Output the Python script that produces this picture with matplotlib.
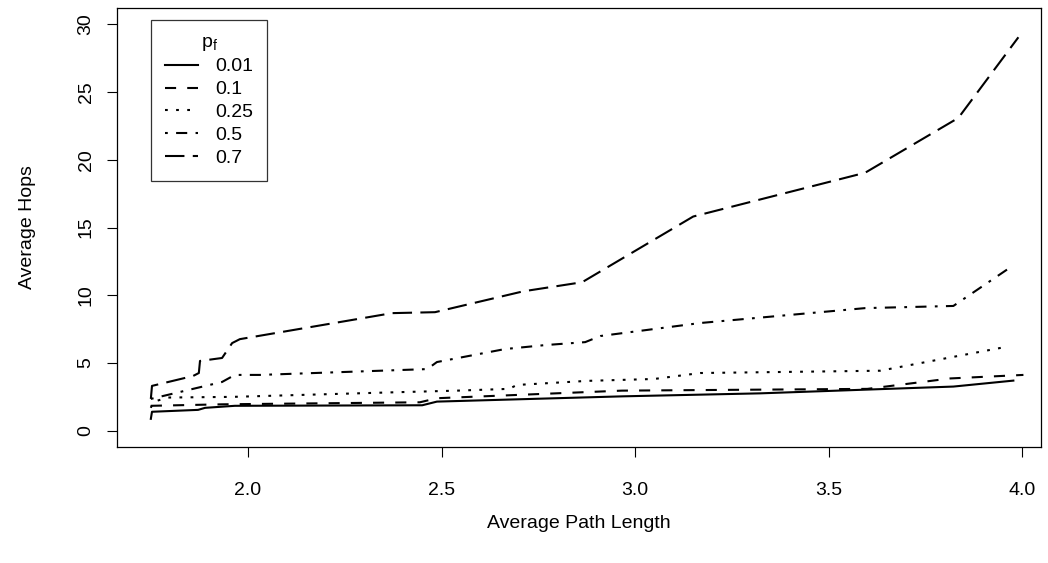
import matplotlib
matplotlib.use('Agg')
import matplotlib.pyplot as plt

plt.rcParams['font.family'] = ['Liberation Sans', 'DejaVu Sans']
plt.rcParams['font.size'] = 14
plt.rcParams['lines.scale_dashes'] = False

# values (x = average path length, y = average hops)
x_001 = [1.749, 1.752, 1.871, 1.889, 1.966, 2.450, 2.488, 2.969, 3.323, 3.822, 3.977]
y_001 = [0.88, 1.40, 1.54, 1.69, 1.84, 1.88, 2.15, 2.54, 2.76, 3.26, 3.70]

x_01 = [1.749, 1.933, 2.444, 2.488, 2.966, 3.600, 3.814, 4.003]
y_01 = [1.84, 1.95, 2.10, 2.40, 2.96, 3.09, 3.86, 4.12]

x_025 = [1.749, 1.755, 1.793, 1.961, 2.393, 2.540, 2.674, 2.695, 2.876, 3.049,
         3.168, 3.633, 3.951]
y_025 = [1.69, 2.13, 2.45, 2.50, 2.85, 2.96, 3.09, 3.38, 3.68, 3.82,
         4.26, 4.43, 6.15]

x_05 = [1.749, 1.933, 1.966, 2.031, 2.463, 2.488, 2.664, 2.767, 2.871, 2.910,
        3.168, 3.594, 3.822, 3.977]
y_05 = [2.35, 3.60, 4.12, 4.12, 4.55, 5.07, 6.03, 6.32, 6.54, 6.99,
        7.95, 9.05, 9.21, 12.21]

x_07 = [1.749, 1.752, 1.858, 1.873, 1.876, 1.933, 1.959, 1.979, 2.372, 2.483,
        2.711, 2.863, 3.150, 3.594, 3.835, 3.990]
y_07 = [2.35, 3.31, 4.04, 4.26, 5.15, 5.37, 6.47, 6.76, 8.68, 8.75,
        10.29, 10.96, 15.81, 19.04, 23.09, 29.04]

pf_labels = ['0.01', '0.1', '0.25', '0.5', '0.7']
xticks = [2.0, 2.5, 3.0, 3.5, 4.0]
yticks = [0, 5, 10, 15, 20, 25, 30]

# R style line types: solid, dashed, dotted, dotdash, longdash
ltys = ['-', (0, (8, 8)), (0, (2, 6)), (0, (2, 6, 8, 6)), (0, (14, 6))]

fig = plt.figure(figsize=(10.48, 5.63), dpi=100)
ax = fig.add_axes([117 / 1048, 1 - 447 / 563, 924 / 1048, 439 / 563])

series = [(x_001, y_001), (x_01, y_01), (x_025, y_025), (x_05, y_05), (x_07, y_07)]
for (xs, ys), lab, ls in zip(series, pf_labels, ltys):
    ax.plot(xs, ys, color='black', linestyle=ls, linewidth=1.5, label=lab)

ax.set_xlim(1.6616, 4.0484)
ax.set_ylim(-1.2, 31.2)

ax.set_xticks(xticks)
ax.set_xticklabels(['%.1f' % t for t in xticks])
ax.set_yticks(yticks)
ax.set_yticklabels([str(t) for t in yticks], rotation=90, va='center')
ax.tick_params(axis='both', direction='out', length=7.2, width=0.8, labelsize=14)
ax.tick_params(axis='x', pad=18)
ax.tick_params(axis='y', pad=9)
for sp in ax.spines.values():
    sp.set_linewidth(0.9)

ax.set_xlabel('Average Path Length', fontsize=14)
ax.set_ylabel('Average Hops', fontsize=14)
ax.xaxis.set_label_coords(0.5, -0.156)
ax.yaxis.set_label_coords(-0.0882, 0.5)

leg = ax.legend(title=r'$\mathregular{p_f}$', loc='upper left',
                bbox_to_anchor=((151 - 117) / 924, (447 - 20) / 439),
                borderaxespad=0, frameon=True, fancybox=False, fontsize=14,
                title_fontsize=14, handlelength=1.7, handletextpad=0.92,
                labelspacing=0.27, borderpad=0.7)
leg.get_frame().set_edgecolor('black')
leg.get_frame().set_linewidth(0.9)

fig.savefig('out.png', dpi=100)
